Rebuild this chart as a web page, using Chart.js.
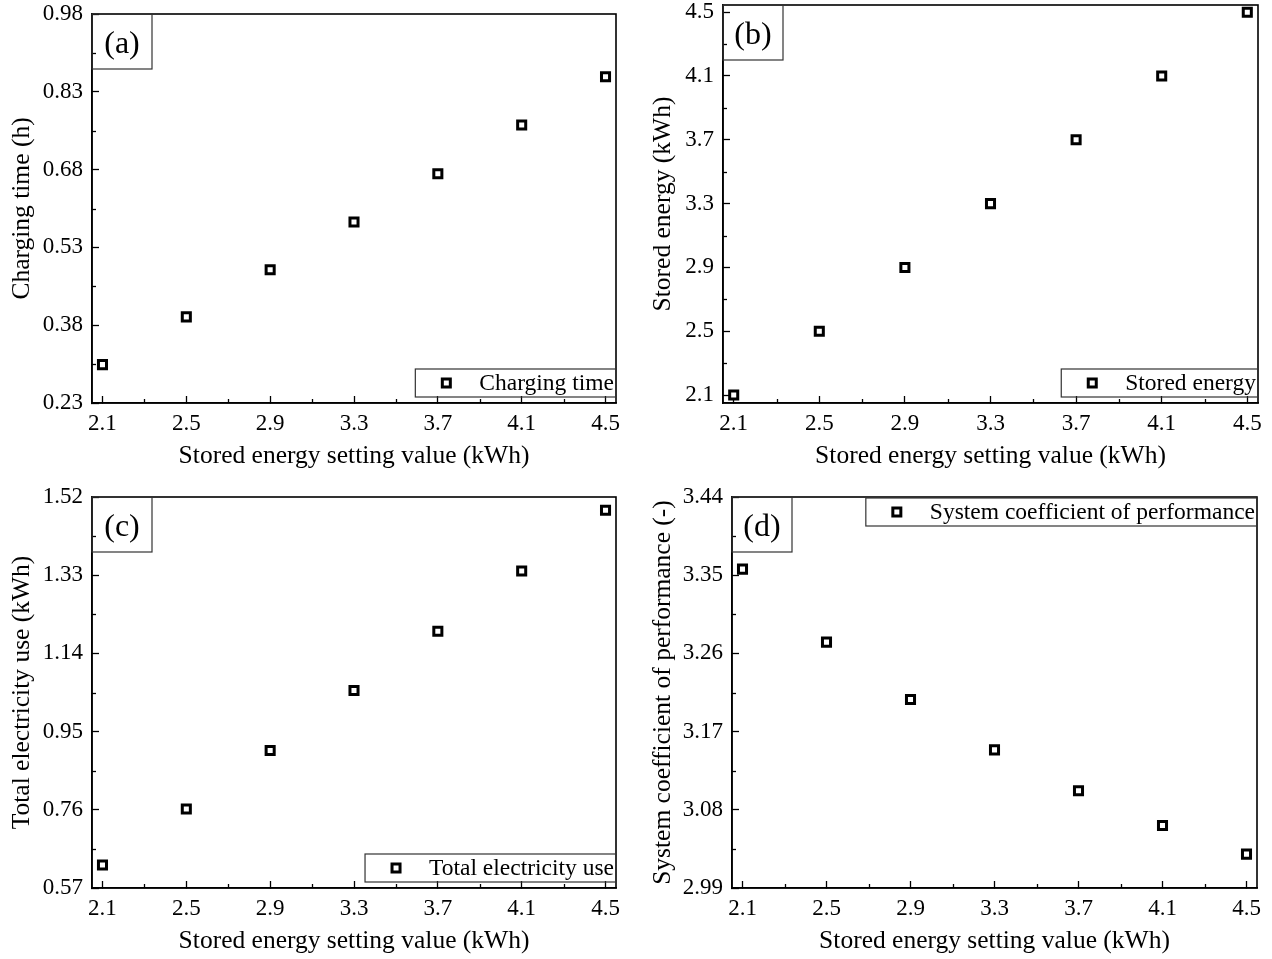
<!DOCTYPE html>
<html>
<head>
<meta charset="utf-8">
<title>Stored energy setting value</title>
<script src="https://cdn.jsdelivr.net/npm/chart.js@4.4.1/dist/chart.umd.min.js"></script>
<style>
  body { margin: 0; background: #fff; }
  .panel { position: absolute; }
</style>
</head>
<body>
<div class="panel" style="left:0;top:0"><canvas id="chartA" width="636" height="480"></canvas></div>
<div class="panel" style="left:636px;top:0"><canvas id="chartB" width="636" height="480"></canvas></div>
<div class="panel" style="left:0;top:480px"><canvas id="chartC" width="636" height="479"></canvas></div>
<div class="panel" style="left:636px;top:480px"><canvas id="chartD" width="636" height="479"></canvas></div>
<script>
// data
const settingValues = [2.1, 2.5, 2.9, 3.3, 3.7, 4.1, 4.5];
const chargingTime = [0.304, 0.396, 0.487, 0.579, 0.672, 0.766, 0.859];
const storedEnergy = [2.1, 2.5, 2.9, 3.3, 3.7, 4.1, 4.5];
const totalElectricity = [0.626, 0.762, 0.904, 1.050, 1.194, 1.340, 1.488];
const systemCop = [3.357, 3.273, 3.207, 3.149, 3.102, 3.062, 3.029];

// tick labels
const xTicks = ['2.1', '2.5', '2.9', '3.3', '3.7', '4.1', '4.5'];
const chargingTicks = ['0.23', '0.38', '0.53', '0.68', '0.83', '0.98'];
const storedTicks = ['2.1', '2.5', '2.9', '3.3', '3.7', '4.1', '4.5'];
const electricityTicks = ['0.57', '0.76', '0.95', '1.14', '1.33', '1.52'];
const copTicks = ['2.99', '3.08', '3.17', '3.26', '3.35', '3.44'];

const FONT = '"Liberation Serif", "Times New Roman", serif';

// frame, minor ticks, (a)-(d) tag box and the boxed legend
const panelDecor = {
    id: 'panelDecor',
    afterDraw(chart, args, opts) {
        const ctx = chart.ctx;
        const a = chart.chartArea;
        ctx.save();

        // minor ticks half way between the major ones
        ctx.strokeStyle = '#000';
        ctx.lineWidth = 1.3;
        const xs = chart.scales.x, ys = chart.scales.y;
        for (let i = 0; i < xs.ticks.length - 1; i++) {
            const px = Math.round(xs.getPixelForValue((xs.ticks[i].value + xs.ticks[i + 1].value) / 2)) + 0.5;
            ctx.beginPath(); ctx.moveTo(px, a.bottom); ctx.lineTo(px, a.bottom - 4); ctx.stroke();
        }
        for (let i = 0; i < ys.ticks.length - 1; i++) {
            const py = Math.round(ys.getPixelForValue((ys.ticks[i].value + ys.ticks[i + 1].value) / 2)) + 0.5;
            ctx.beginPath(); ctx.moveTo(a.left, py); ctx.lineTo(a.left + 4, py); ctx.stroke();
        }

        // plot frame
        ctx.lineWidth = 1.6;
        ctx.strokeRect(a.left, a.top, a.right - a.left, a.bottom - a.top);

        // tag box
        ctx.lineWidth = 1.2;
        ctx.strokeStyle = '#333';
        ctx.strokeRect(a.left, a.top, 60, 55);
        ctx.fillStyle = '#000';
        ctx.font = '32px ' + FONT;
        ctx.textAlign = 'center';
        ctx.textBaseline = 'middle';
        ctx.fillText(opts.tag, a.left + 30, a.top + 31);

        // legend
        const label = chart.data.datasets[0].label;
        ctx.font = '23.5px ' + FONT;
        const tw = ctx.measureText(label).width;
        const w = tw + 66, h = 28;
        const top = opts.legendTop ? a.top + 1 : a.bottom - 6 - h;
        const left = a.right - w;
        ctx.strokeRect(left, top, w, h);
        ctx.strokeStyle = '#000';
        ctx.lineWidth = 3;
        ctx.strokeRect(left + 31 - 4, top + h / 2 - 4, 8, 8);
        ctx.textAlign = 'left';
        ctx.fillText(label, left + 64, top + h / 2 + 1);
        ctx.restore();
    }
};

function axisOpts(tickLabels, min, max, size, tickPad, title, titlePad) {
    return {
        type: 'linear',
        min: min,
        max: max,
        afterBuildTicks: (s) => { s.ticks = tickLabels.map(t => ({ value: Number(t) })); },
        afterFit: (s) => {
            if (s.isHorizontal()) s.height = size; else s.width = size;
            s.paddingTop = 0; s.paddingBottom = 0; s.paddingLeft = 0; s.paddingRight = 0;
        },
        ticks: {
            callback: (v, i) => tickLabels[i],
            font: { family: FONT, size: 23 },
            color: '#000',
            padding: tickPad,
            autoSkip: false,
            maxRotation: 0
        },
        grid: { drawOnChartArea: false, drawTicks: true, tickLength: -7, tickWidth: 1.3, tickColor: '#000' },
        border: { display: true, color: '#000', width: 1.6 },
        title: { display: true, text: title, font: { family: FONT, size: 25.5 }, color: '#000', padding: titlePad }
    };
}

function makePanel(id, o) {
    const ctx = document.getElementById(id).getContext('2d');
    return new Chart(ctx, {
        type: 'scatter',
        data: {
            datasets: [{
                label: o.label,
                data: settingValues.map((x, i) => ({ x: x, y: o.values[i] })),
                pointStyle: 'rect',
                pointRadius: 5.7,
                pointHoverRadius: 5.7,
                pointBorderWidth: 3,
                borderColor: '#000',
                backgroundColor: '#fff'
            }]
        },
        options: {
            responsive: false,
            animation: false,
            events: [],
            layout: { autoPadding: false, padding: { top: o.top, right: o.right, left: 0, bottom: 0 } },
            plugins: {
                legend: { display: false },
                tooltip: { enabled: false },
                panelDecor: { tag: o.tag, legendTop: o.legendTop }
            },
            scales: {
                x: axisOpts(xTicks, 2.05, 4.55, o.xSize, 14, 'Stored energy setting value (kWh)', { top: 0, bottom: o.xTitlePad }),
                y: axisOpts(o.yTicks, o.yMin, o.yMax, o.ySize, 16, o.yTitle, { top: o.yTitlePad, bottom: 0 })
            }
        },
        plugins: [panelDecor]
    });
}

makePanel('chartA', {
    label: 'Charging time', tag: '(a)', values: chargingTime, yTicks: chargingTicks,
    yMin: 0.23, yMax: 0.98, yTitle: 'Charging time (h)',
    top: 14, right: 20, xSize: 77, ySize: 92, xTitlePad: 8, yTitlePad: 6.7, legendTop: false
});
makePanel('chartB', {
    label: 'Stored energy', tag: '(b)', values: storedEnergy, yTicks: storedTicks,
    yMin: 2.05, yMax: 4.545, yTitle: 'Stored energy (kWh)',
    top: 5, right: 14, xSize: 77, ySize: 87, xTitlePad: 8, yTitlePad: 11.7, legendTop: false
});
makePanel('chartC', {
    label: 'Total electricity use', tag: '(c)', values: totalElectricity, yTicks: electricityTicks,
    yMin: 0.57, yMax: 1.52, yTitle: 'Total electricity use (kWh)',
    top: 17, right: 20, xSize: 71, ySize: 92, xTitlePad: 2, yTitlePad: 6.7, legendTop: false
});
makePanel('chartD', {
    label: 'System coefficient of performance', tag: '(d)', values: systemCop, yTicks: copTicks,
    yMin: 2.99, yMax: 3.44, yTitle: 'System coefficient of performance (-)',
    top: 17, right: 15, xSize: 71, ySize: 96, xTitlePad: 2, yTitlePad: 11.7, legendTop: true
});
</script>
</body>
</html>
